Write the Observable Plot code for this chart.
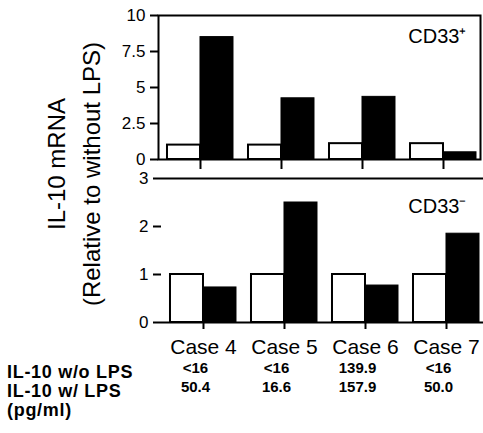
<!DOCTYPE html>
<html>
<head>
<meta charset="utf-8">
<script src="https://cdn.jsdelivr.net/npm/d3@7"></script>
<script src="https://cdn.jsdelivr.net/npm/@observablehq/plot@0.6"></script>
<style>
  html, body { margin: 0; padding: 0; background: #fff; }
  #wrap { position: relative; width: 483px; height: 433px; overflow: hidden; font-family: "Liberation Sans", Arial, sans-serif; color: #000; }
  #wrap svg { position: absolute; left: 0; background: transparent; }
  .ytitle { position: absolute; white-space: nowrap; font-size: 24px; transform: translate(-50%, -50%) rotate(-90deg); }
  .rowlab { position: absolute; left: 7px; white-space: nowrap; font-size: 18px; font-weight: bold; letter-spacing: 0.7px; transform: translateY(-50%); }
</style>
</head>
<body>
<div id="wrap">
  <div class="ytitle" style="left:57px; top:164px;">IL-10 mRNA</div>
  <div class="ytitle" style="left:92px; top:174px;">(Relative to without LPS)</div>
  <div class="rowlab" style="top:372px;">IL-10 w/o LPS</div>
  <div class="rowlab" style="top:391px;">IL-10 w/ LPS</div>
  <div class="rowlab" style="top:410px;">(pg/ml)</div>
</div>
<script>
// ---- data ----
const cases = ["Case 4", "Case 5", "Case 6", "Case 7"];
const cd33PosWithout = [1.0, 1.0, 1.1, 1.1];
const cd33PosWith = [8.5, 4.25, 4.35, 0.5];
const cd33NegWithout = [1.0, 1.0, 1.0, 1.0];
const cd33NegWith = [0.73, 2.5, 0.77, 1.85];
const il10WithoutLPS = ["<16", "<16", "139.9", "<16"];
const il10WithLPS = ["50.4", "16.6", "157.9", "50.0"];
const topTicks = [0, 2.5, 5, 7.5, 10];
const topTickLabels = ["0", "2.5", "5", "7.5", "10"];
const bottomTicks = [0, 1, 2, 3];
const bottomTickLabels = ["0", "1", "2", "3"];
const panelLabels = ["CD33\u207A", "CD33\u207B"];

const topRows = cases.map((c, i) => ({case: c, without: cd33PosWithout[i], with: cd33PosWith[i]}));
const botRows = cases.map((c, i) => ({case: c, without: cd33NegWithout[i], with: cd33NegWith[i], wo: il10WithoutLPS[i], w: il10WithLPS[i]}));

const font = "'Liberation Sans', Arial, sans-serif";
const xBand = {domain: cases, paddingInner: 0.1852, paddingOuter: 0.0802, align: 0.692, round: false};

const topChart = Plot.plot({
  width: 483, height: 175,
  marginLeft: 158, marginRight: 3, marginTop: 15, marginBottom: 16,
  style: {fontFamily: font, background: "transparent", overflow: "visible"},
  x: {...xBand, axis: null},
  y: {domain: [0, 10], axis: null},
  marks: [
    Plot.barY(topRows, {x: "case", y: "without", fill: "white", stroke: "black", strokeWidth: 2, insetRight: 33}),
    Plot.barY(topRows, {x: "case", y: "with", fill: "black", stroke: "black", strokeWidth: 1, insetLeft: 33}),
    Plot.frame({stroke: "black", strokeWidth: 2}),
    Plot.axisY({ticks: topTicks, tickFormat: (d, i) => topTickLabels[i], tickSize: 8, tickPadding: 5, fontSize: 17, strokeWidth: 2, label: null}),
    Plot.axisX({tickSize: 10, tickFormat: () => "", strokeWidth: 2, label: null}),
    Plot.text([panelLabels[0]], {frameAnchor: "top-right", text: d => d, textAnchor: "end", dx: -14, dy: 13, fontSize: 20})
  ]
});
topChart.style.top = "0px";

const botChart = Plot.plot({
  width: 483, height: 263,
  marginLeft: 161, marginRight: 0, marginTop: 8, marginBottom: 111,
  style: {fontFamily: font, background: "transparent", overflow: "visible"},
  x: {...xBand, axis: null},
  y: {domain: [0, 3], axis: null},
  marks: [
    Plot.barY(botRows, {x: "case", y: "without", fill: "white", stroke: "black", strokeWidth: 2, insetRight: 33}),
    Plot.barY(botRows, {x: "case", y: "with", fill: "black", stroke: "black", strokeWidth: 1, insetLeft: 33}),
    Plot.ruleY([0, 3], {stroke: "black", strokeWidth: 2}),
    Plot.axisY({ticks: bottomTicks, tickFormat: (d, i) => bottomTickLabels[i], tickSize: 8, tickPadding: 5, fontSize: 17, strokeWidth: 2, line: true, label: null}),
    Plot.axisX({tickSize: 7, tickPadding: 10, fontSize: 21, strokeWidth: 2, label: null}),
    Plot.text([panelLabels[1]], {frameAnchor: "top-right", text: d => d, textAnchor: "end", dx: -17, dy: 20, fontSize: 20}),
    Plot.text(botRows, {x: "case", frameAnchor: "bottom", text: "wo", dy: 50, dx: -8, fontSize: 15, fontWeight: "bold"}),
    Plot.text(botRows, {x: "case", frameAnchor: "bottom", text: "w", dy: 69, dx: -8, fontSize: 15, fontWeight: "bold"})
  ]
});
botChart.style.top = "170px";

const wrap = document.getElementById("wrap");
wrap.appendChild(topChart);
wrap.appendChild(botChart);
</script>
</body>
</html>
